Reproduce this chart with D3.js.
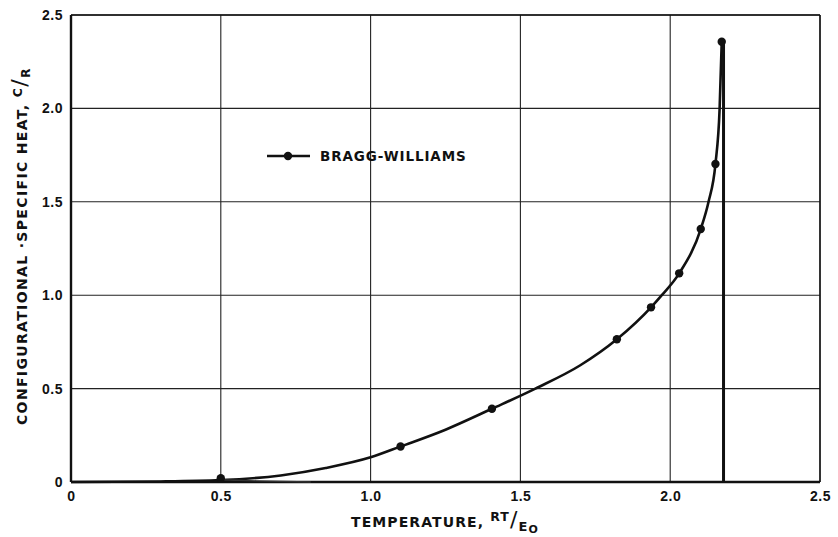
<html lang="en">
  <head>
    <meta charset="UTF-8">
    <title>Bragg-Williams specific heat</title>
    <script src="https://d3js.org/d3.v7.min.js"></script>
    <style>
body, html {
  margin: 0;
  padding: 0;
  background: white;
  overflow: hidden;
}
svg {
  display: block;
  font-family: "DejaVu Sans", sans-serif;
  font-weight: bold;
}
.grid line { stroke: #222; stroke-width: 1.1; }
.tick text { font-size: 14px; fill: #111; letter-spacing: 0.5px; }
    </style>
  </head>
  <body>
    <svg width="838" height="537"></svg>
    <script>
      // marked points on the Bragg-Williams curve
      const pointT = [0.5, 1.1, 1.405, 1.822, 1.936, 2.03, 2.102, 2.151, 2.172];
      const pointC = [0.02, 0.19, 0.392, 0.764, 0.935, 1.117, 1.354, 1.702, 2.357];

      // the smooth curve as drawn
      const curveT = [0, 0.3, 0.5, 0.7, 0.85, 1.0, 1.1, 1.25, 1.405, 1.55, 1.7, 1.822, 1.936, 1.972, 2.03, 2.102, 2.128, 2.151, 2.165, 2.172];
      const curveC = [0, 0.003, 0.01, 0.035, 0.075, 0.132, 0.19, 0.28, 0.392, 0.5, 0.625, 0.764, 0.935, 1.0, 1.117, 1.354, 1.5, 1.702, 2.0, 2.357];

      const transitionT = 2.178; // vertical drop at the critical temperature

      const xTicks = [0, 0.5, 1.0, 1.5, 2.0, 2.5];
      const yTicks = [0, 0.5, 1.0, 1.5, 2.0, 2.5];
      const tickLabels = ["0", "0.5", "1.0", "1.5", "2.0", "2.5"];

      const svg = d3.select("svg");
      const margin = {left: 71, right: 18, top: 15, bottom: 55};
      const width = 838, height = 537;

      const x = d3.scaleLinear().domain([0, 2.5]).range([margin.left, width - margin.right]);
      const y = d3.scaleLinear().domain([0, 2.5]).range([height - margin.bottom, margin.top]);

      // grid
      const grid = svg.append("g").attr("class", "grid");
      grid.selectAll("line.v")
        .data(xTicks.slice(1))
        .join("line")
        .attr("x1", d => x(d)).attr("x2", d => x(d))
        .attr("y1", y(0)).attr("y2", y(2.5));
      grid.selectAll("line.h")
        .data(yTicks.slice(1))
        .join("line")
        .attr("x1", x(0)).attr("x2", x(2.5))
        .attr("y1", d => y(d)).attr("y2", d => y(d));

      // axes, heavier than the grid
      svg.append("line")
        .attr("x1", x(0)).attr("x2", x(0)).attr("y1", y(0)).attr("y2", y(2.5))
        .attr("stroke", "#111").attr("stroke-width", 2.4);
      svg.append("line")
        .attr("x1", x(0)).attr("x2", x(2.5)).attr("y1", y(0)).attr("y2", y(0))
        .attr("stroke", "#111").attr("stroke-width", 2.4);
      svg.append("line")
        .attr("x1", x(0)).attr("x2", x(2.5)).attr("y1", y(2.5)).attr("y2", y(2.5))
        .attr("stroke", "#111").attr("stroke-width", 1.6);
      svg.append("line")
        .attr("x1", x(2.5)).attr("x2", x(2.5)).attr("y1", y(0)).attr("y2", y(2.5))
        .attr("stroke", "#111").attr("stroke-width", 1.4);

      const xAxis = svg.append("g")
        .attr("transform", `translate(0,${y(0)})`)
        .call(d3.axisBottom(x).tickValues(xTicks).tickSize(0).tickPadding(9)
          .tickFormat((d, i) => tickLabels[i]));
      xAxis.select(".domain").remove();

      const yAxis = svg.append("g")
        .attr("transform", `translate(${x(0)},0)`)
        .call(d3.axisLeft(y).tickValues(yTicks).tickSize(0).tickPadding(8)
          .tickFormat((d, i) => tickLabels[i]));
      yAxis.select(".domain").remove();

      // curve
      const line = d3.line()
        .x((d, i) => x(curveT[i]))
        .y((d, i) => y(curveC[i]))
        .curve(d3.curveMonotoneX);
      svg.append("path")
        .datum(curveT)
        .attr("d", line)
        .attr("fill", "none")
        .attr("stroke", "#111")
        .attr("stroke-width", 2.6);

      // faint second trace near the origin
      svg.append("path")
        .attr("d", d3.line()([[x(0.5), y(0.012)], [x(0.62), y(0.006)], [x(0.8), y(0.0)]]))
        .attr("fill", "none").attr("stroke", "#333").attr("stroke-width", 1.4);

      // vertical drop at the transition
      svg.append("line")
        .attr("x1", x(transitionT)).attr("x2", x(transitionT))
        .attr("y1", y(pointC[pointC.length - 1])).attr("y2", y(0))
        .attr("stroke", "#111").attr("stroke-width", 3);

      svg.selectAll("circle.pt")
        .data(pointT)
        .join("circle")
        .attr("class", "pt")
        .attr("cx", d => x(d))
        .attr("cy", (d, i) => y(pointC[i]))
        .attr("r", 4.2)
        .attr("fill", "#111");

      // legend
      const lg = svg.append("g").attr("transform", "translate(267,156)");
      lg.append("line").attr("x1", 0).attr("x2", 43).attr("stroke", "#111").attr("stroke-width", 2.6);
      lg.append("circle").attr("cx", 21).attr("r", 4.2).attr("fill", "#111");
      lg.append("text").attr("x", 53).attr("y", 5)
        .attr("font-size", 13.5).attr("letter-spacing", 0.9).attr("fill", "#111")
        .text("BRAGG-WILLIAMS");

      // axis titles
      const xt = svg.append("text")
        .attr("x", 351).attr("y", 527)
        .attr("font-size", 14).attr("letter-spacing", 1.1).attr("fill", "#111");
      xt.append("tspan").text("TEMPERATURE, ");
      xt.append("tspan").attr("font-size", 12.5).attr("dy", -6).text("RT");
      xt.append("tspan").attr("font-size", 22).attr("dy", 6).attr("font-weight", "normal").text("/");
      xt.append("tspan").attr("font-size", 13).attr("dy", 4).text("E");
      xt.append("tspan").attr("font-size", 11).attr("dy", 2).text("O");

      const yt = svg.append("text")
        .attr("transform", "translate(27,425) rotate(-90)")
        .attr("font-size", 14).attr("letter-spacing", 1.35).attr("fill", "#111");
      yt.append("tspan").text("CONFIGURATIONAL ·SPECIFIC HEAT, ");
      yt.append("tspan").attr("font-size", 12.5).attr("dy", -5).text("C");
      yt.append("tspan").attr("font-size", 22).attr("dy", 5).attr("font-weight", "normal").text("/");
      yt.append("tspan").attr("font-size", 12.5).attr("dy", 3).text("R");
    </script>
  </body>
</html>
